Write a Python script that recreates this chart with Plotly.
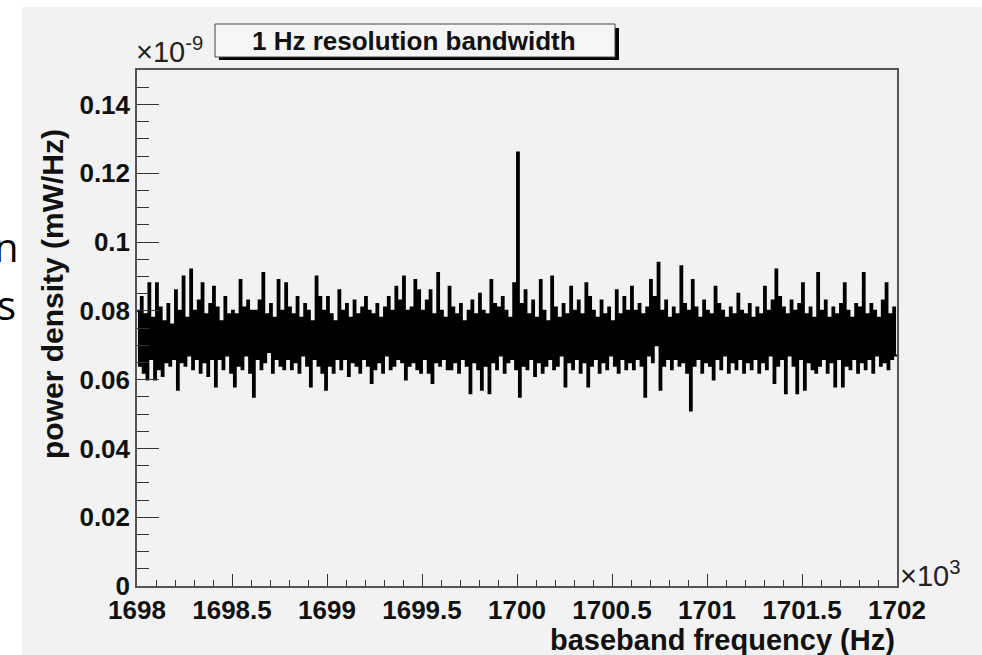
import numpy as np
import plotly.graph_objects as go

# Spectrum: 400 bins of 10 Hz from 1698.00 to 1702.00 kHz.
# Power density per bin, in units of 1e-12 mW/Hz.
freq_start_khz = 1698.0
bin_width_khz = 0.01
density = [
    80, 64, 84, 62, 79, 60, 88, 66, 78, 60, 88, 63, 81, 61, 77, 65, 82, 64, 76, 66,
    86, 57, 80, 65, 90, 64, 78, 67, 92, 63, 80, 66, 83, 62, 88, 65, 79, 61, 82, 66,
    87, 58, 81, 66, 77, 63, 84, 67, 79, 62, 80, 58, 79, 64, 89, 63, 81, 67, 83, 62,
    80, 55, 80, 66, 83, 63, 91, 65, 79, 68, 82, 62, 78, 66, 89, 64, 80, 63, 88, 66,
    81, 63, 79, 65, 84, 62, 78, 67, 82, 64, 80, 58, 77, 66, 90, 64, 84, 62, 80, 57,
    84, 64, 79, 62, 77, 66, 86, 63, 80, 66, 82, 61, 78, 65, 83, 64, 79, 62, 81, 66,
    84, 64, 80, 59, 79, 63, 82, 65, 78, 62, 81, 67, 84, 63, 80, 64, 87, 66, 83, 65,
    90, 60, 80, 64, 81, 65, 89, 63, 86, 62, 80, 66, 83, 62, 86, 59, 79, 65, 91, 64,
    80, 66, 78, 63, 87, 63, 81, 65, 79, 62, 82, 66, 77, 64, 80, 56, 83, 65, 79, 63,
    85, 57, 80, 64, 79, 56, 89, 65, 82, 63, 81, 67, 84, 62, 80, 65, 78, 66, 88, 63,
    126, 55, 82, 64, 86, 63, 79, 66, 83, 61, 78, 65, 89, 62, 80, 64, 77, 66, 90, 63,
    81, 64, 78, 67, 82, 58, 79, 65, 87, 63, 80, 66, 83, 62, 79, 65, 88, 58, 84, 64,
    80, 66, 78, 62, 83, 65, 79, 63, 81, 67, 77, 64, 86, 62, 79, 66, 84, 63, 80, 65,
    87, 63, 80, 66, 82, 64, 79, 55, 81, 67, 89, 65, 84, 70, 94, 57, 80, 64, 83, 66,
    78, 63, 81, 66, 79, 64, 93, 65, 82, 62, 80, 51, 89, 64, 81, 66, 78, 62, 83, 65,
    80, 64, 79, 60, 87, 66, 82, 63, 80, 67, 78, 62, 81, 65, 79, 63, 85, 66, 80, 62,
    79, 65, 82, 63, 78, 66, 81, 62, 79, 65, 87, 63, 80, 67, 83, 59, 92, 64, 84, 66,
    81, 56, 79, 67, 83, 64, 80, 56, 82, 66, 88, 57, 79, 65, 81, 63, 78, 62, 91, 64,
    80, 66, 83, 62, 78, 65, 81, 58, 79, 66, 82, 58, 88, 64, 80, 63, 78, 66, 82, 62,
    81, 65, 91, 63, 79, 66, 82, 62, 80, 67, 78, 64, 83, 65, 88, 63, 79, 66, 81, 67,
]

x_range = [1698.0, 1702.0]
y_range = [0.0, 0.15]
x_title = "baseband frequency (Hz)"
y_title = "power density (mW/Hz)"
hist_title = "1 Hz resolution bandwidth"

# bin edges (kHz) and step values on the x10^-9 scale
vals = np.array(density, dtype=float) / 1000.0
edges = freq_start_khz + bin_width_khz * np.arange(len(vals) + 1)
steps = np.append(vals, vals[-1])

W, H = 982, 655
L, R, T, B = 137, 897, 70, 586


def px(x):
    return (x - L) / (R - L)


def py(y):
    return (B - y) / (B - T)


FONT = "Liberation Sans, Arial, Helvetica, sans-serif"
CANVAS = "#f2f2f2"

fig = go.Figure()
fig.add_trace(go.Scatter(
    x=edges, y=steps, mode="lines", line_shape="hv",
    line=dict(color="#000000", width=1.9), hoverinfo="skip", showlegend=False,
))

shapes = [
    # gray canvas
    dict(type="rect", xref="paper", yref="paper", layer="below",
         x0=px(22), x1=px(990), y0=py(7), y1=py(665),
         fillcolor=CANVAS, line=dict(width=0)),
    # title box shadow and box
    dict(type="rect", xref="paper", yref="paper",
         x0=px(219), x1=px(619), y0=py(60), y1=py(28),
         fillcolor="#000000", line=dict(width=0)),
    dict(type="rect", xref="paper", yref="paper",
         x0=px(215), x1=px(615), y0=py(57), y1=py(24),
         fillcolor="#f5f5f5", line=dict(color="#444444", width=1)),
]

annotations = [
    dict(text=hist_title, x=px(414), y=py(41), xref="paper", yref="paper",
         showarrow=False, xanchor="center", yanchor="middle",
         font=dict(family=FONT, size=26, color="#111111", weight="bold")),
    dict(text="×10<sup>-9</sup>", x=px(134), y=py(50), xref="paper", yref="paper",
         showarrow=False, xanchor="left", yanchor="middle",
         font=dict(family=FONT, size=29, color="#222222")),
    dict(text="×10<sup>3</sup>", x=px(898), y=py(574), xref="paper", yref="paper",
         showarrow=False, xanchor="left", yanchor="middle",
         font=dict(family=FONT, size=29, color="#222222")),
    dict(text=x_title, x=px(897), y=py(640), xref="paper", yref="paper",
         showarrow=False, xanchor="right", yanchor="middle",
         font=dict(family=FONT, size=29, color="#111111", weight="bold")),
    dict(text=y_title, x=px(52), y=py(294), xref="paper", yref="paper",
         showarrow=False, xanchor="center", yanchor="middle", textangle=-90,
         font=dict(family=FONT, size=30, color="#111111", weight="bold")),
    # slide text at the left margin
    dict(text="n", x=px(21), y=py(246), xref="paper", yref="paper",
         showarrow=False, xanchor="right", yanchor="middle",
         font=dict(family="Open Sans, Noto Sans, sans-serif", size=40, color="#000000")),
    dict(text="s", x=px(18), y=py(304), xref="paper", yref="paper",
         showarrow=False, xanchor="right", yanchor="middle",
         font=dict(family="Open Sans, Noto Sans, sans-serif", size=40, color="#000000")),
]

tickfont = dict(family=FONT, size=26, color="#111111", weight="bold")

fig.update_layout(
    width=W, height=H,
    margin=dict(l=L, r=W - R, t=T, b=H - B, pad=0),
    paper_bgcolor="#ffffff", plot_bgcolor=CANVAS,
    shapes=shapes, annotations=annotations,
    xaxis=dict(
        range=x_range, tick0=1698, dtick=0.5, ticks="inside", ticklen=12,
        tickwidth=1, tickcolor="#333333", showgrid=False, zeroline=False,
        showline=True, linecolor="#555555", linewidth=1.5, mirror=True,
        tickfont=tickfont, tickformat="~g",
        minor=dict(dtick=0.1, ticks="inside", ticklen=6, tickcolor="#333333",
                   showgrid=False),
    ),
    yaxis=dict(
        range=y_range, tick0=0, dtick=0.02, ticks="inside", ticklen=22,
        tickwidth=1, tickcolor="#333333", showgrid=False, zeroline=False,
        showline=True, linecolor="#555555", linewidth=1.5, mirror=True,
        tickfont=tickfont, tickformat="~g",
        minor=dict(dtick=0.005, ticks="inside", ticklen=12, tickcolor="#333333",
                   showgrid=False),
    ),
)

fig.write_html("out.html")
